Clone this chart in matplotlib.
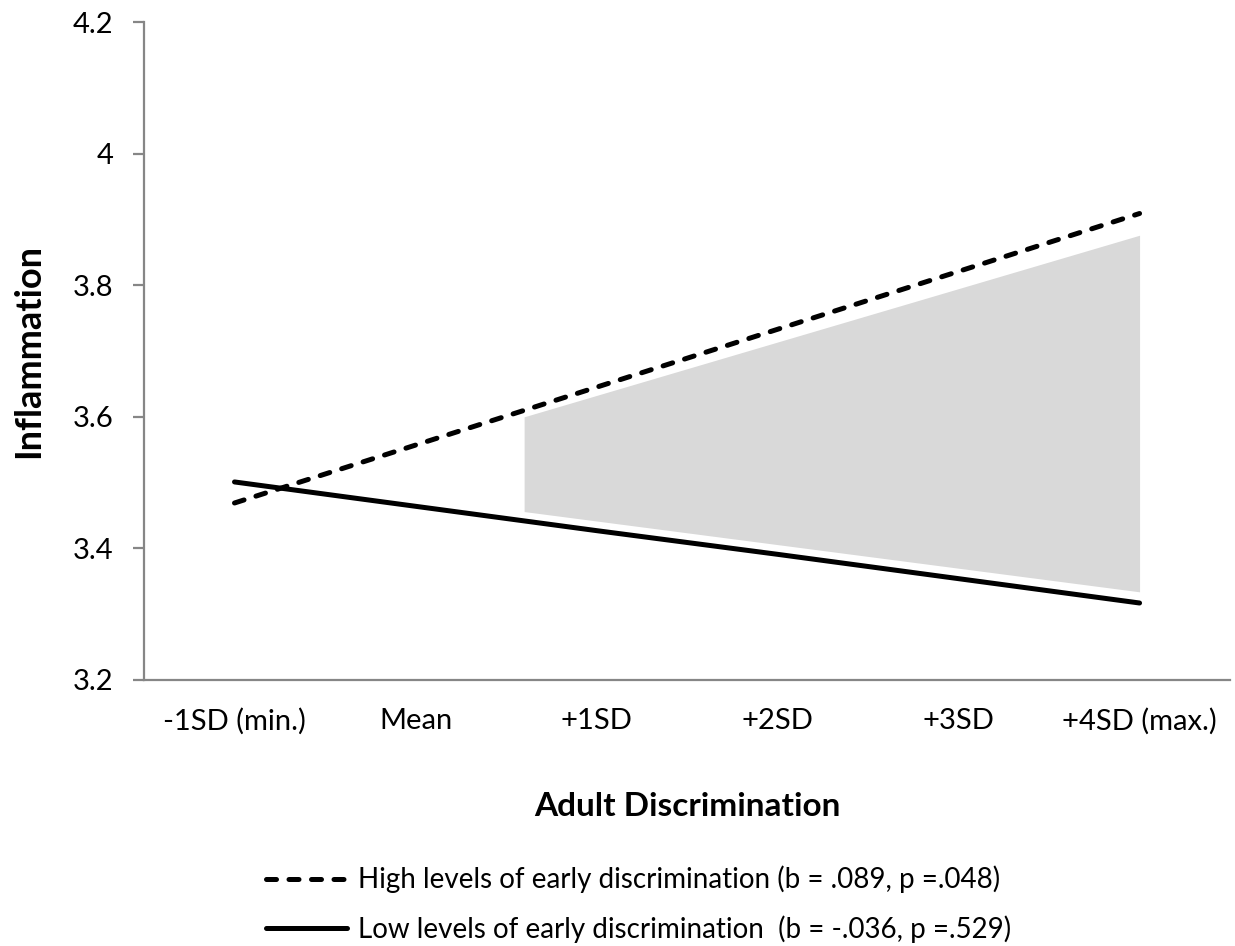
import numpy as np
import matplotlib
matplotlib.use("Agg")
import matplotlib.pyplot as plt

plt.rcParams['font.family'] = ['Lato', 'DejaVu Sans']

categories = ['-1SD (min.)', 'Mean', '+1SD', '+2SD', '+3SD', '+4SD (max.)']
high_early = [3.469, 3.557, 3.645, 3.733, 3.821, 3.909]
low_early = [3.501, 3.464, 3.427, 3.391, 3.354, 3.317]

# shaded region of significance (category units)
region_x = [1.6, 5.0]
region_top = [3.600, 3.876]
region_bottom = [3.456, 3.334]

high_label = 'High levels of early discrimination (b = .089, p =.048)'
low_label = 'Low levels of early discrimination  (b = -.036, p =.529)'

fig = plt.figure(figsize=(12.35, 9.46), dpi=100)
ax = fig.add_axes([0.1166, 0.2812, 0.8794, 0.6955])

x = np.arange(len(categories))
ax.fill_between(region_x, region_bottom, region_top, color='#d9d9d9', lw=0, zorder=1)
l1, = ax.plot(x, high_early, color='black', lw=3.6, linestyle=(0, (2.0, 2.5)),
              dash_capstyle='round', zorder=3)
l2, = ax.plot(x, low_early, color='black', lw=3.6, solid_capstyle='round', zorder=3)

ax.set_xlim(-0.5, 5.5)
ax.set_ylim(3.2, 4.2)
ax.set_yticks([3.2, 3.4, 3.6, 3.8, 4.0, 4.2])
ax.set_yticklabels(['3.2', '3.4', '3.6', '3.8', '4', '4.2'])
ax.set_xticks(x)
ax.set_xticklabels(categories)

for s in ['top', 'right']:
    ax.spines[s].set_visible(False)
for s in ['left', 'bottom']:
    ax.spines[s].set_color('#868686')
    ax.spines[s].set_linewidth(1.6)

ax.tick_params(axis='y', length=8, width=1.6, color='#868686', pad=14,
               labelsize=21, labelcolor='#000000')
ax.tick_params(axis='x', length=0, pad=20, labelsize=21)

ax.set_xlabel('Adult Discrimination', fontsize=24, fontweight='bold', labelpad=41)
ax.set_ylabel('Inflammation', fontsize=26, fontweight='bold', labelpad=20)

fig.legend([l1, l2], [high_label, low_label], loc='center', bbox_to_anchor=(0.517, 0.044),
           frameon=False, fontsize=20, handlelength=2.9, handletextpad=0.4,
           labelspacing=0.8)

fig.savefig('out.png', dpi=100)
